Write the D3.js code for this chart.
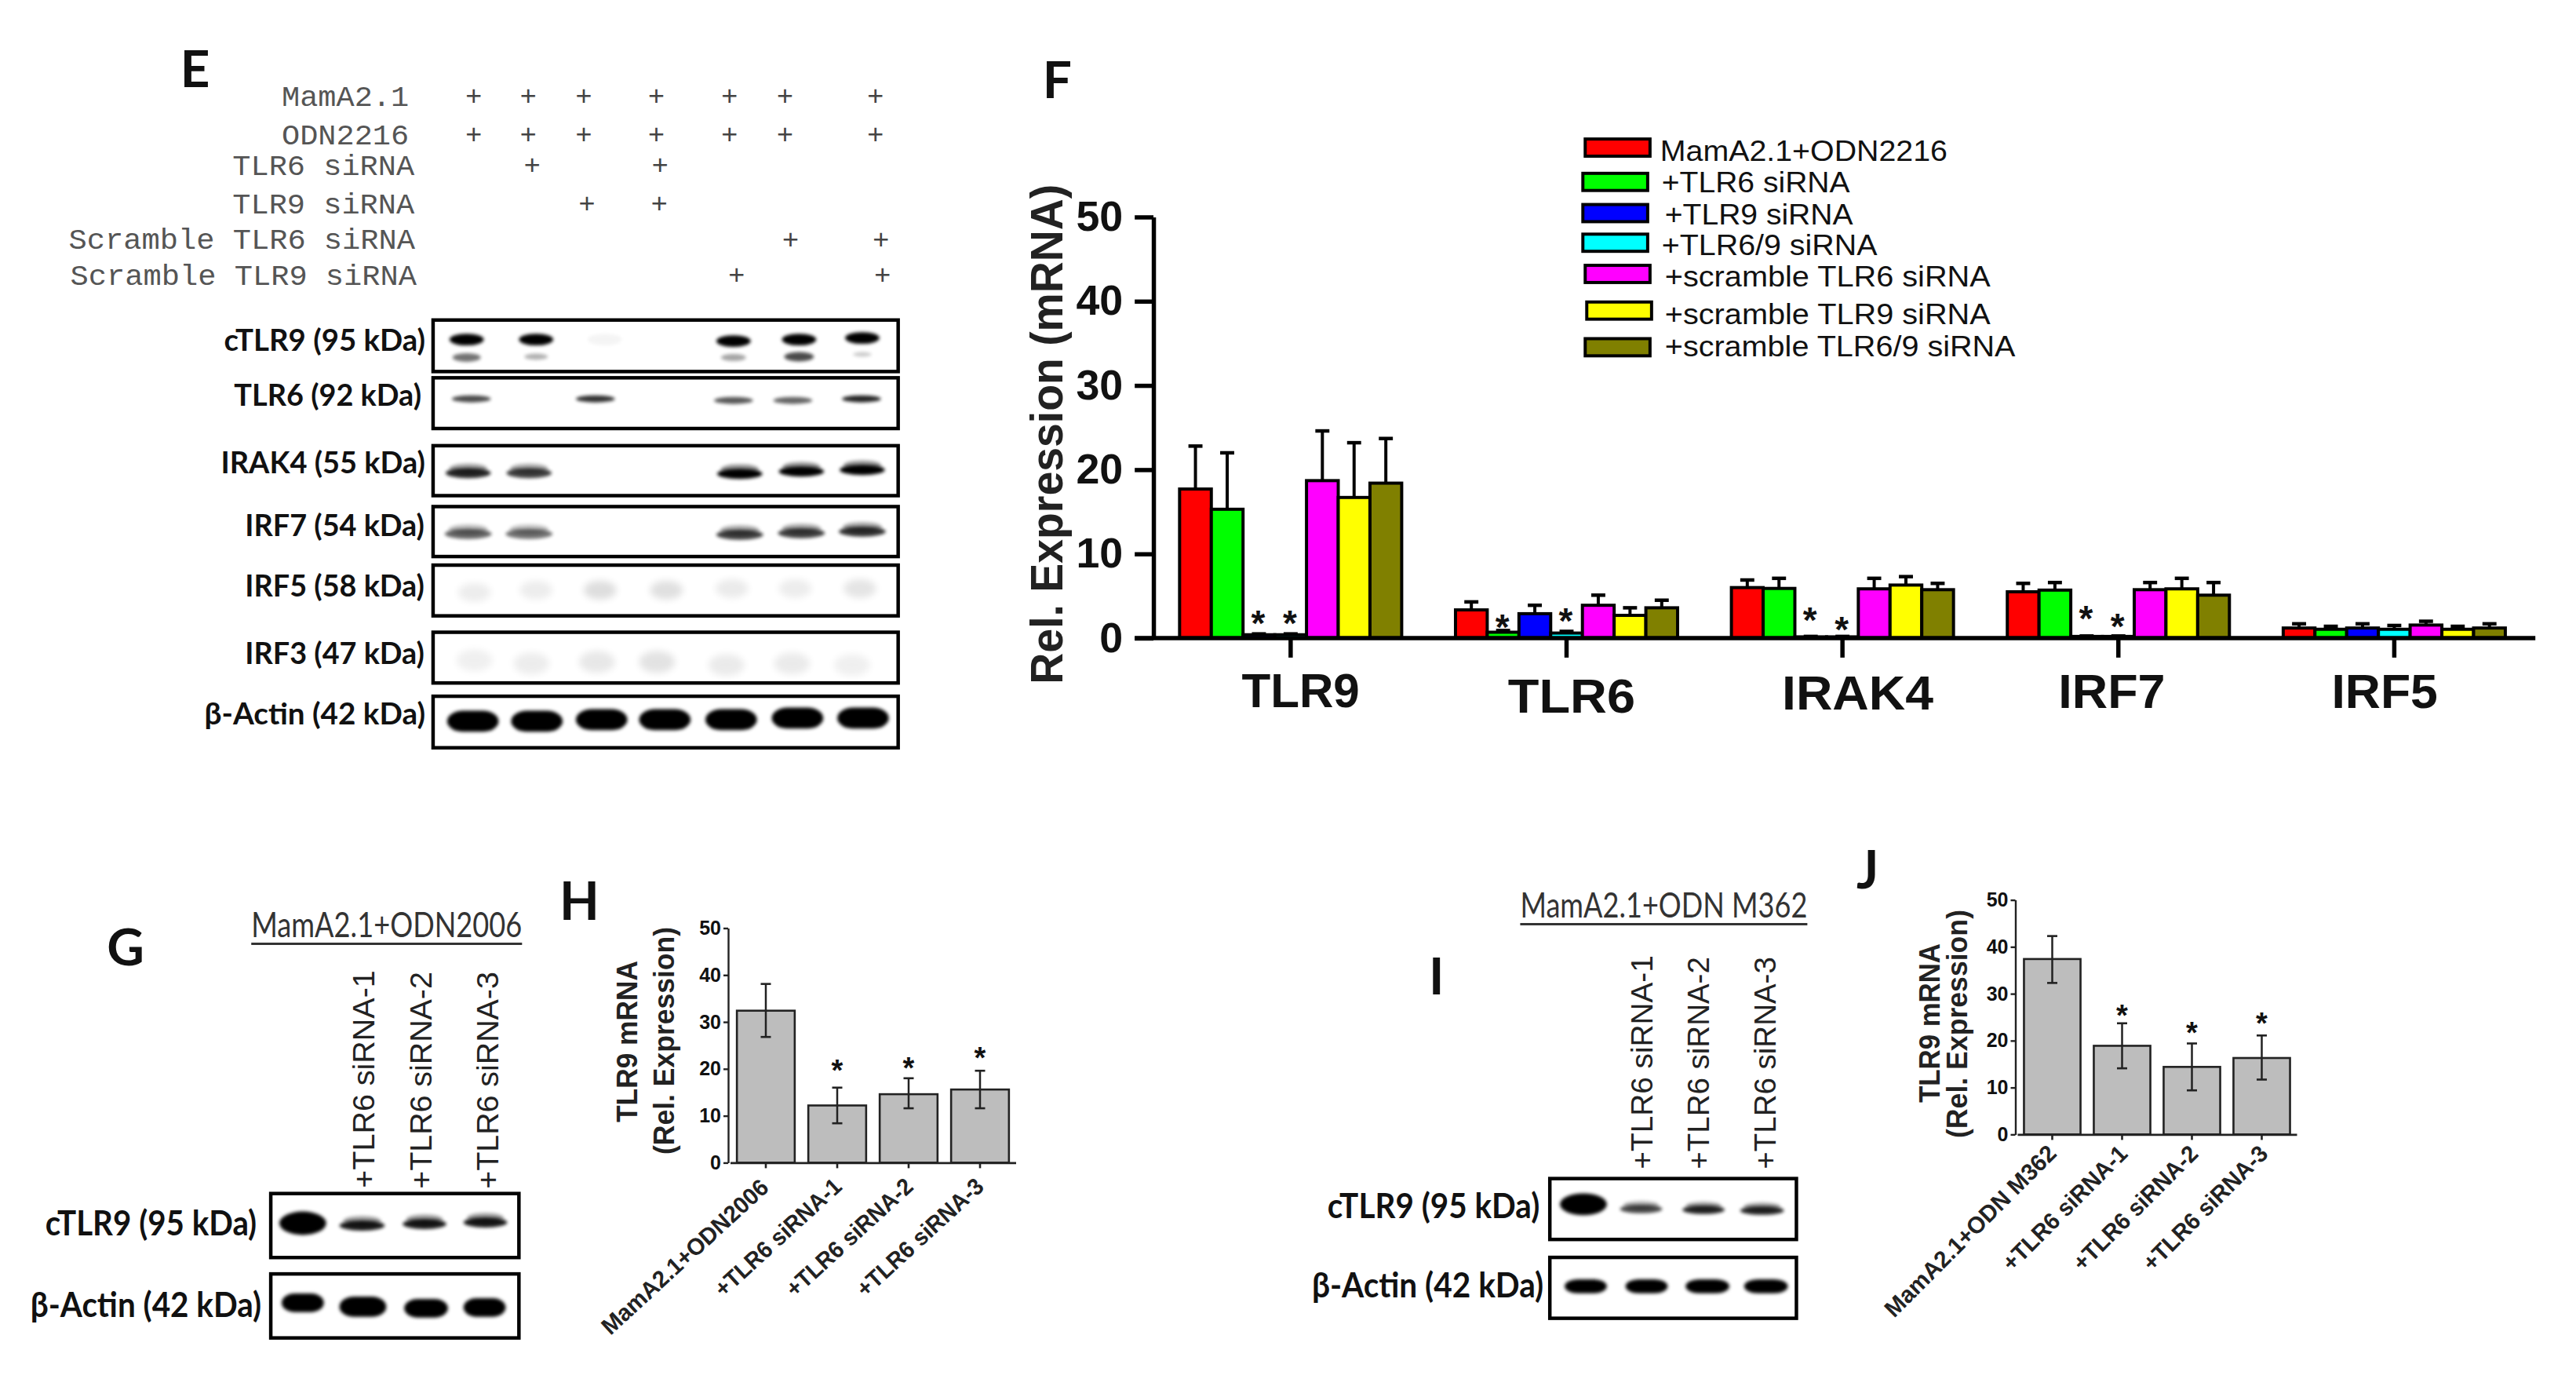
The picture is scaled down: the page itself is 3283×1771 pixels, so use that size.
<!DOCTYPE html>
<html><head><meta charset="utf-8">
<script src="https://d3js.org/d3.v7.min.js"></script>
<style>html,body{margin:0;background:#fff}svg{display:block}</style></head>
<body><svg id="c" width="3283" height="1771"></svg>
<script>
// ---------- DATA ----------
const treatments = ["MamA2.1","ODN2216","TLR6 siRNA","TLR9 siRNA","Scramble TLR6 siRNA","Scramble TLR9 siRNA"];
const treatmentLanes = [[0,1,2,3,4,5,6],[0,1,2,3,4,5,6],[1,3],[2,3],[5,6],[4,6]];
const proteinsE = ["cTLR9 (95 kDa)","TLR6 (92 kDa)","IRAK4 (55 kDa)","IRF7 (54 kDa)","IRF5 (58 kDa)","IRF3 (47 kDa)","β-Actin (42 kDa)"];
const tonesE = [[1,1,.04,0,1,1,1],[.7,0,.8,0,.65,.6,.85],[.85,.75,0,0,1,1,1],[.6,.55,0,0,.75,.75,.8],[.07,.07,.13,.12,.08,.07,.1],[.06,.07,.09,.11,.08,.08,.06],[1,1,1,1,1,1,1]];
const tonesE2 = [.55,.3,0,0,.35,.7,.2];

const genes = ["TLR9","TLR6","IRAK4","IRF7","IRF5"];
const seriesF = ["MamA2.1+ODN2216","+TLR6 siRNA","+TLR9 siRNA","+TLR6/9 siRNA","+scramble TLR6 siRNA","+scramble TLR9 siRNA","+scramble TLR6/9 siRNA"];
const colorsF = ["#ff0000","#00ff00","#0000ff","#00ffff","#ff00ff","#ffff00","#808000"];
const meanF = [[17.7,15.3,.4,.4,18.7,16.7,18.4],[3.35,.7,2.9,.6,3.9,2.7,3.6],[6,5.9,.15,.15,5.85,6.3,5.75],[5.5,5.7,.2,.2,5.75,5.85,5.1],[1.2,1.05,1.2,1.05,1.55,1.05,1.2]];
const upperF = [[22.8,22,.5,.5,24.6,23.2,23.7],[4.3,.9,3.9,.8,5.1,3.6,4.5],[6.9,7.1,.2,.2,7.1,7.3,6.5],[6.5,6.6,.25,.25,6.6,7.1,6.6],[1.7,1.4,1.7,1.5,2,1.4,1.7]];
const starsF = [[0,2,2.8],[0,3,2.8],[1,1,2.3],[1,3,3.1],[2,2,3.2],[2,3,2],[3,2,3.35],[3,3,2.4]];
const ticks50 = [0,10,20,30,40,50];

const catsH = ["MamA2.1+ODN2006","+TLR6 siRNA-1","+TLR6 siRNA-2","+TLR6 siRNA-3"];
const meanH = [32.4,12.2,14.6,15.6], hiH = [38.1,16,18,19.6], loH = [26.8,8.4,11.6,11.6], starH = [21.1,21.6,23.9];
const catsJ = ["MamA2.1+ODN M362","+TLR6 siRNA-1","+TLR6 siRNA-2","+TLR6 siRNA-3"];
const meanJ = [37.4,18.9,14.4,16.3], hiJ = [42.3,23.7,19.4,21.1], loJ = [32.3,14.1,9.4,11.7], starJ = [26.9,23.2,25.2];
const tonesG = [[1,.9,.9,.9],[1,1,1,1]];
const tonesI = [[1,.7,.85,.85],[1,1,1,1]];

// ---------- HELPERS ----------
const svg = d3.select("#c");
const defs = svg.append("defs");
[["blur",2],["soft",5]].forEach(([id,s])=>defs.append("filter").attr("id",id).attr("x","-30%").attr("y","-60%").attr("width","160%").attr("height","220%")
  .append("feGaussianBlur").attr("stdDeviation",s));
const ARIAL="'Liberation Sans',Arial,sans-serif", CAL="Lato,'Open Sans',sans-serif", MONO="'Liberation Mono',monospace";
let P=svg;
function panel(ox,oy,sx,sy){return svg.append("g").attr("transform",`translate(${ox},${oy}) scale(${sx},${sy}) translate(${-ox},${-oy})`);}
function T(s,o){
  const t=P.append("text").text(s).attr("font-family",o.f||ARIAL).attr("font-size",o.s)
    .attr("font-weight",o.w||"normal").attr("fill",o.c||"#000");
  t.attr("transform",`translate(${o.x},${o.y}) rotate(${o.r||0})`);
  if(o.len) t.attr("textLength",o.len).attr("lengthAdjust","spacingAndGlyphs");
  if(o.a) t.attr("text-anchor",o.a);
  return t;
}
function letter(s,x,y){T(s,{x,y,s:66,w:"bold",f:CAL,c:"#111"});}
const toneOpacity=d3.scaleLinear().domain([0,1]).range([0,1]);
function band(x,y,w,h,tone,o={}){
  if(tone<=0) return;
  const rx=o.blob?w/3.2:w/2;
  if(o.halo) P.append("rect").attr("x",x-w*.42).attr("y",y-h*.95).attr("width",w*.84).attr("height",h).attr("rx",w*.42).attr("ry",h/2)
    .attr("fill","#000").attr("opacity",toneOpacity(tone)*.4).attr("filter","url(#blur)");
  P.append("rect").attr("x",x-w/2).attr("y",y-h/2).attr("width",w).attr("height",h).attr("rx",rx).attr("ry",h/2)
    .attr("fill","#000").attr("opacity",toneOpacity(tone)).attr("filter",o.soft?"url(#soft)":"url(#blur)");
}
function box(x0,x1,y0,y1){
  P.append("rect").attr("x",x0).attr("y",y0).attr("width",x1-x0).attr("height",y1-y0)
    .attr("fill","none").attr("stroke","#000").attr("stroke-width",4.5);
}
// ---------- PANEL E ----------
P=panel(0,0,.9945,.9945);
letter("E",231,112);
const rowTextE=[[361,136,163],[361,185,163],[298,224,233],[298,274,233],[88,319,444],[90,365,444]];
const plusY=[124,173,212,262,308,353], plusDx=[0,0,5,4,7,9];
const plusLane=d3.scaleOrdinal().domain(d3.range(7)).range([607,677,748,841,935,1006,1122]);
treatments.forEach((n,i)=>{
  const r=rowTextE[i];
  T(n,{x:r[0],y:r[1],s:38,f:MONO,c:"#555",len:r[2]});
  treatmentLanes[i].forEach(l=>T("+",{x:plusLane(l)+plusDx[i],y:plusY[i]+11,s:36,f:MONO,c:"#444",a:"middle"}));
});
const blotE=[
 {y0:410,y1:476,base:449,right:545,len:258,ys:[435,435,435,435,437,435,433],w:44,h:15,xs:[598,687,775,852,940,1024,1105]},
 {y0:484,y1:549,base:520,right:540,len:240,ys:[511,511,511,511,513,513,511],w:50,h:9,xs:[604,688,763,852,940,1016,1104]},
 {y0:571,y1:635,base:606,right:545,len:262,ys:[606,606,606,606,607,604,602],w:58,h:13,o:{halo:1},xs:[600,678,771,852,948,1027,1105]},
 {y0:649,y1:713,base:687,right:544,len:230,ys:[684,684,684,684,685,683,681],w:60,h:13,o:{halo:1},xs:[600,678,771,852,948,1027,1105]},
 {y0:724,y1:789,base:764,right:544,len:230,ys:[759,756,756,756,754,754,754],w:42,h:24,o:{soft:1},xs:[608,687,769,854,938,1019,1102]},
 {y0:810,y1:875,base:851,right:544,len:230,ys:[846,850,848,848,852,850,852],w:46,h:28,o:{soft:1},xs:[608,681,765,842,931,1015,1092]},
 {y0:892,y1:958,base:928,right:545,len:283,ys:[924,924,922,922,922,920,920],w:66,h:27,o:{blob:1},xs:[606,688,771,852,937,1022,1106]}];
const e2y=[458,457,0,0,458,457,454], e2w=[36,30,0,0,32,38,24], e2h=[11,8,0,0,9,12,6];
proteinsE.forEach((p,i)=>{
  const b=blotE[i];
  T(p,{x:b.right-b.len,y:b.base,s:38,w:"bold",f:CAL,c:"#111",len:b.len});
  tonesE[i].forEach((t,l)=>band(b.xs[l],b.ys[l],b.w,b.h,t,b.o||{}));
  if(i==0) tonesE2.forEach((t,l)=>band(b.xs[l],e2y[l],e2w[l],e2h[l],t));
  box(555,1151,b.y0,b.y1);
});
// ---------- PANEL F ----------
P=panel(1280,40,.995,.9936);
letter("F",1329,126);
const xF=d3.scaleBand().domain(genes).range([1470,3237]).paddingInner(.195).paddingOuter(.0975);
const xFin=d3.scaleBand().domain(d3.range(7)).range([0,xF.bandwidth()]);
const yF=d3.scaleLinear().domain([0,50]).range([818,278]);
genes.forEach((g,gi)=>{
  const G=P.append("g").attr("transform",`translate(${xF(g)},0)`);
  meanF[gi].forEach((v,si)=>{
    const cx=xFin(si)+xFin.bandwidth()/2;
    G.append("line").attr("x1",cx).attr("x2",cx).attr("y1",yF(v)).attr("y2",yF(upperF[gi][si])).attr("stroke","#000").attr("stroke-width",4);
    G.append("line").attr("x1",cx-9).attr("x2",cx+9).attr("y1",yF(upperF[gi][si])).attr("y2",yF(upperF[gi][si])).attr("stroke","#000").attr("stroke-width",4.5);
    G.append("rect").attr("x",xFin(si)).attr("y",yF(v)).attr("width",xFin.bandwidth()).attr("height",yF(0)-yF(v))
      .attr("fill",colorsF[si]).attr("stroke","#000").attr("stroke-width",4);
  });
});
starsF.forEach(([g,s,v])=>T("*",{x:xF(genes[g])+xFin(s)+xFin.bandwidth()/2-1,y:yF(v)+27,s:46,w:"bold",a:"middle",c:"#111"}));
const axF=P.append("g").attr("transform","translate(1471,0)").call(d3.axisLeft(yF).tickValues(ticks50).tickSize(24).tickPadding(15).tickSizeOuter(0));
axF.selectAll("path,line").attr("stroke","#000").attr("stroke-width",5.5);
axF.selectAll("text").attr("font-family",ARIAL).attr("font-size",54).attr("font-weight","bold").attr("fill","#111");
const xGF=P.append("g").attr("transform","translate(0,818)").call(d3.axisBottom(xF).tickSize(25).tickSizeOuter(0).tickFormat(""));
xGF.selectAll("path,line").attr("stroke","#000").attr("stroke-width",5.5);
xGF.select("path").attr("d","M1447,0H3241");
const geneLabel=[[1584,907,151],[1925,914,163],[2276,910,194],[2630,908,137],[2980,908,136]];
genes.forEach((g,i)=>T(g,{x:geneLabel[i][0],y:geneLabel[i][1],s:62,w:"bold",c:"#111",len:geneLabel[i][2]}));
T("Rel. Expression (mRNA)",{x:1354,y:877,s:58,w:"bold",c:"#222",r:-90,len:641});
const legendF=[[2024,178,2120,206,368],[2021,222,2122,246,241],[2021,262,2126,288,241],[2021,300,2122,327,276],[2024,340,2126,367,417],[2026,387,2126,415,417],[2024,434,2126,457,449]];
seriesF.forEach((n,i)=>{
  const l=legendF[i];
  P.append("rect").attr("x",l[0]).attr("y",l[1]).attr("width",83).attr("height",22).attr("fill",colorsF[i]).attr("stroke","#000").attr("stroke-width",4);
  T(n,{x:l[2],y:l[3],s:38,c:"#111",len:l[4]});
});
// ---------- SMALL PANELS ----------
function small(o){
  P=panel(o.origin[0],o.origin[1],.9945,.9945);
  letter(o.letter[0],o.letter[1],o.letter[2]);
  T(o.title,{x:o.tx[0],y:o.tx[2],s:44,f:CAL,c:"#333",len:o.tx[1]-o.tx[0]});
  P.append("line").attr("x1",o.tx[0]).attr("x2",o.tx[1]).attr("y1",o.tx[2]+8).attr("y2",o.tx[2]+8).attr("stroke","#333").attr("stroke-width",3);
  o.rot.forEach((r,i)=>T(o.cats[i+1],{x:r[0],y:r[1],s:39,c:"#222",r:-90,len:r[2]}));
  o.blots.forEach((b,i)=>{
    T(b.label,{x:b.lx,y:b.base,s:44,w:"bold",f:CAL,c:"#111",len:b.len});
    o.tones[i].forEach((t,l)=>band(b.xs[l],b.ys[l],b.ws[l],b.hs[l],t,{blob:b.blob,halo:!b.blob&&l>0}));
    box(o.boxX[0],o.boxX[1],b.y0,b.y1);
  });
  P=svg;
  const x=d3.scaleBand().domain(o.cats).range(o.xr).paddingInner(.19).paddingOuter(.095);
  const y=d3.scaleLinear().domain([0,50]).range(o.yr);
  const cap=6.5;
  o.mean.forEach((v,i)=>{
    const c=o.cats[i], cx=x(c)+x.bandwidth()/2;
    P.append("rect").attr("x",x(c)).attr("y",y(v)).attr("width",x.bandwidth()).attr("height",y(0)-y(v))
      .attr("fill","#bdbdbd").attr("stroke","#222").attr("stroke-width",2.6);
    P.append("line").attr("x1",cx).attr("x2",cx).attr("y1",y(o.lo[i])).attr("y2",y(o.hi[i])).attr("stroke","#222").attr("stroke-width",2.5);
    [o.lo[i],o.hi[i]].forEach(e=>P.append("line").attr("x1",cx-cap).attr("x2",cx+cap).attr("y1",y(e)).attr("y2",y(e)).attr("stroke","#222").attr("stroke-width",2.6));
    if(i>0) T("*",{x:cx,y:y(o.star[i-1])+22,s:38,w:"bold",a:"middle",c:"#111"});
  });
  const ay=P.append("g").attr("transform",`translate(${o.xr[0]-2.5},0)`).call(d3.axisLeft(y).tickValues(ticks50).tickSize(6).tickPadding(3).tickSizeOuter(0));
  ay.selectAll("path,line").attr("stroke","#222").attr("stroke-width",2.4);
  ay.selectAll("text").attr("font-family",ARIAL).attr("font-size",25).attr("font-weight","bold").attr("fill","#111");
  const ax=P.append("g").attr("transform",`translate(0,${o.yr[0]})`).call(d3.axisBottom(x).tickSize(7).tickSizeOuter(0).tickFormat(""));
  ax.selectAll("path,line").attr("stroke","#222").attr("stroke-width",2.6);
  o.cats.forEach((c,i)=>{
    const l=o.xl[i];
    T(c,{x:l[0],y:l[1],s:30,w:"bold",c:"#222",r:o.xa,len:l[2]});
  });
  T("TLR9 mRNA",{x:o.yl[0],y:o.yl[1],s:36,w:"bold",c:"#222",r:-90,len:o.yl[2]});
  T("(Rel. Expression)",{x:o.yl[3],y:o.yl[4],s:36,w:"bold",c:"#222",r:-90,len:o.yl[5]});
}
small({origin:[0,1100],letter:["G",137,1231],title:"MamA2.1+ODN2006",tx:[322,669,1195],cats:catsH,
 rot:[[480,1516,279],[553,1517,278],[638.5,1517,278]],boxX:[347,665],tones:tonesG,
 blots:[{label:"cTLR9 (95 kDa)",lx:58,base:1577,len:271,y0:1523,y1:1605,xs:[388,464,544,622],ys:[1561,1564,1562,1560],ws:[60,58,56,56],hs:[30,13,13,13]},
        {label:"β-Actin (42 kDa)",lx:39,base:1681,len:296,y0:1626,y1:1708,blob:1,xs:[388,465,546,621],ys:[1663,1668,1670,1669],ws:[54,60,56,54],hs:[24,26,24,24]}],
 xr:[930.5,1294.5],yr:[1481.4,1182.5],mean:meanH,hi:hiH,lo:loH,star:starH,xa:-42.5,
 xl:[[778,1702,276],[922,1654,207],[1013,1654,207],[1103,1654,207]],yl:[812,1430,206,859,1471,290]});
small({origin:[1650,1070],letter:["I",1822,1268],title:"MamA2.1+ODN M362",tx:[1939,2307,1170],cats:catsJ,
 rot:[[2108.5,1492,274],[2181,1492,272],[2266.5,1492,272]],boxX:[1977,2293],tones:tonesI,
 blots:[{label:"cTLR9 (95 kDa)",lx:1692,base:1555,len:272,y0:1504,y1:1582,xs:[2020,2094,2174,2249],ys:[1537,1543,1544,1545],ws:[60,54,54,56],hs:[28,11,11,11]},
        {label:"β-Actin (42 kDa)",lx:1672,base:1656,len:297,y0:1605,y1:1683,blob:1,xs:[2023,2101,2179,2254],ys:[1642,1642,1642,1642],ws:[54,54,56,56],hs:[18,18,18,18]}],
 xr:[2571,2927],yr:[1445.4,1146.6],mean:meanJ,hi:hiJ,lo:loJ,star:starJ,xa:-45,
 xl:[[2414,1680,295],[2564,1621,211],[2654,1621,211],[2743,1621,211]],yl:[2472,1405,203,2507,1450,291]});
letter("H",713,1172);
letter("J",2366,1132);
</script></body></html>
